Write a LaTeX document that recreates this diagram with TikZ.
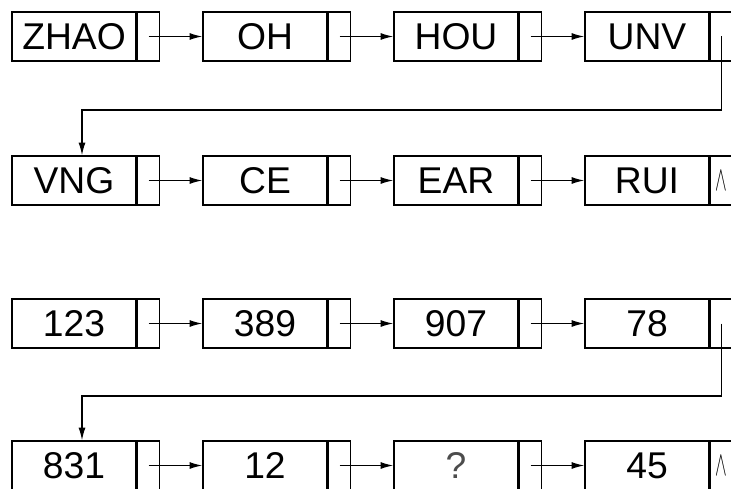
\documentclass[tikz,border=0pt]{standalone}
\usepackage{fontspec}
\setmainfont{Liberation Sans}
\usepackage{tikz}
\usetikzlibrary{arrows.meta, positioning}

\newcommand{\nullptr}{\scalebox{0.5}[1]{$\wedge$}}

\begin{document}
\begin{tikzpicture}[
    font=\fontsize{26.5}{30}\selectfont,
    datacell/.style={draw, line width=1.1pt, inner sep=0pt, minimum width=3.1cm, minimum height=1.225cm},
    linkcell/.style={draw, line width=1.1pt, inner sep=0pt, minimum width=0.55cm, minimum height=1.225cm},
    link/.style={line width=0.9pt, -{Latex[length=9pt,width=5pt]}},
    nullmark/.style={font=\fontsize{25}{28}\selectfont}
  ]
  \useasboundingbox (0,0) rectangle (18.275,12.2);

  % first list: names
  \node[datacell] (n1) at (1.85,11.2875) {ZHAO};
  \node[linkcell, right=0pt of n1] (p1) {};
  \node[datacell] (n2) at (6.625,11.2875) {OH};
  \node[linkcell, right=0pt of n2] (p2) {};
  \node[datacell] (n3) at (11.4,11.2875) {HOU};
  \node[linkcell, right=0pt of n3] (p3) {};
  \node[datacell] (n4) at (16.175,11.2875) {UNV};
  \node[linkcell, right=0pt of n4] (p4) {};

  \node[datacell] (n5) at (1.85,7.6875) {VNG};
  \node[linkcell, right=0pt of n5] (p5) {};
  \node[datacell] (n6) at (6.625,7.6875) {CE};
  \node[linkcell, right=0pt of n6] (p6) {};
  \node[datacell] (n7) at (11.4,7.6875) {EAR};
  \node[linkcell, right=0pt of n7] (p7) {};
  \node[datacell] (n8) at (16.175,7.6875) {RUI};
  \node[linkcell, nullmark, right=0pt of n8] (p8) {\nullptr};

  % second list: numbers
  \node[datacell] (m1) at (1.85,4.1125) {123};
  \node[linkcell, right=0pt of m1] (q1) {};
  \node[datacell] (m2) at (6.625,4.1125) {389};
  \node[linkcell, right=0pt of m2] (q2) {};
  \node[datacell] (m3) at (11.4,4.1125) {907};
  \node[linkcell, right=0pt of m3] (q3) {};
  \node[datacell] (m4) at (16.175,4.1125) {78};
  \node[linkcell, right=0pt of m4] (q4) {};

  \node[datacell] (m5) at (1.85,0.5625) {831};
  \node[linkcell, right=0pt of m5] (q5) {};
  \node[datacell] (m6) at (6.625,0.5625) {12};
  \node[linkcell, right=0pt of m6] (q6) {};
  \node[datacell, text=black!70] (m7) at (11.4,0.5625) {?};
  \node[linkcell, right=0pt of m7] (q7) {};
  \node[datacell] (m8) at (16.175,0.5625) {45};
  \node[linkcell, nullmark, right=0pt of m8] (q8) {\nullptr};

  \coordinate (turnA) at (2.05,9.45);
  \coordinate (turnB) at (2.05,2.3);

  \draw[link] (p1.center) -- (n2.west);
  \draw[link] (p2.center) -- (n3.west);
  \draw[link] (p3.center) -- (n4.west);
  \draw[link] (p4.center) |- (turnA) -- (turnA |- n5.north);
  \draw[link] (p5.center) -- (n6.west);
  \draw[link] (p6.center) -- (n7.west);
  \draw[link] (p7.center) -- (n8.west);

  \draw[link] (q1.center) -- (m2.west);
  \draw[link] (q2.center) -- (m3.west);
  \draw[link] (q3.center) -- (m4.west);
  \draw[link] (q4.center) |- (turnB) -- (turnB |- m5.north);
  \draw[link] (q5.center) -- (m6.west);
  \draw[link] (q6.center) -- (m7.west);
  \draw[link] (q7.center) -- (m8.west);
\end{tikzpicture}
\end{document}
